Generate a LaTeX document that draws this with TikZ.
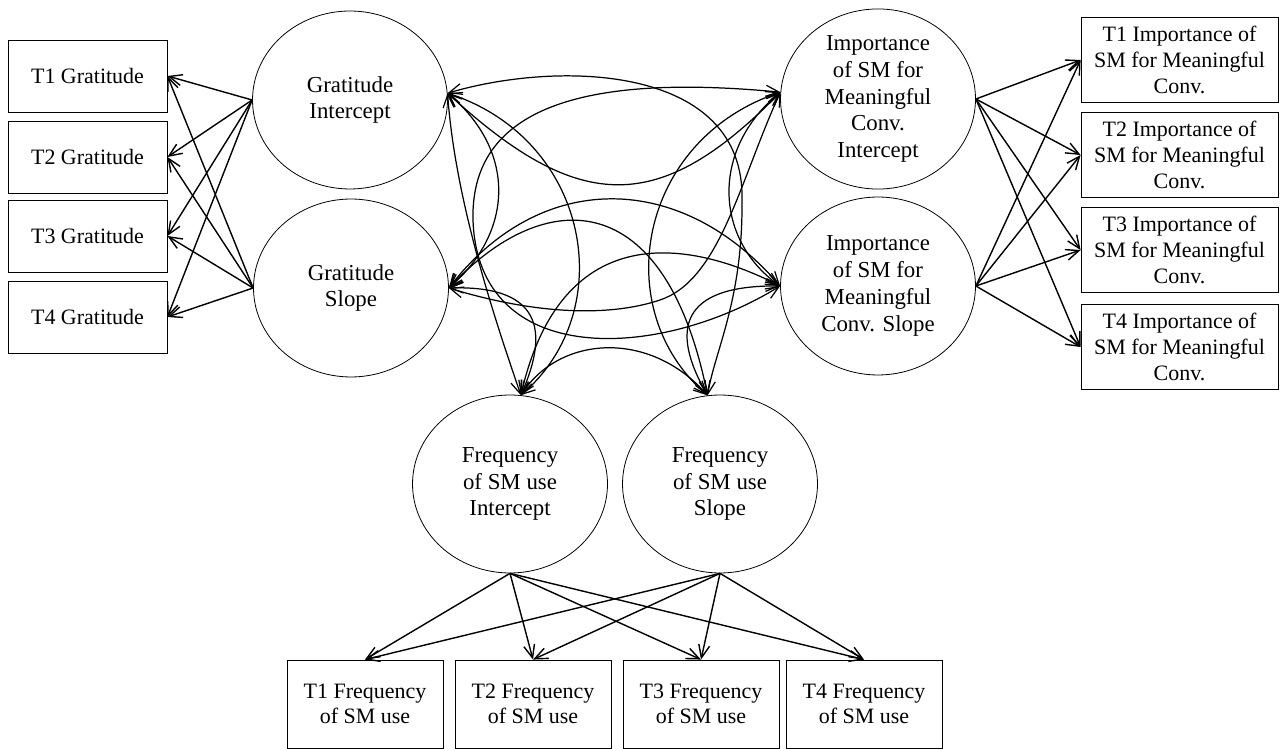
\documentclass[tikz,border=0pt]{standalone}
\usepackage{fontspec}
\setmainfont{Liberation Serif}
\usetikzlibrary{shapes.geometric, arrows.meta}

\begin{document}
\begin{tikzpicture}[x=0.02cm,y=-0.02cm,
    lat/.style={draw,ellipse,line width=0.45pt,minimum width=3.9cm,minimum height=3.56cm,inner sep=0pt,align=center,font=\fontsize{13}{15.3}\selectfont},
    obs/.style={draw,rectangle,line width=0.5pt,inner sep=0pt,align=center,font=\fontsize{12.5}{14.6}\selectfont},
    load/.style={-{Straight Barb[length=2.6mm,width=2.2mm]},line width=0.8pt},
    cov/.style={{Straight Barb[length=2.6mm,width=2.2mm]}-{Straight Barb[length=2.6mm,width=2.2mm]},line width=0.7pt}]
    \useasboundingbox (0,0) rectangle (1281,749);

    % latent factors
    \node[lat] (gint) at (350,100) {Gratitude\\Intercept};
    \node[lat] (gslp) at (351,288) {Gratitude\\Slope};
    \node[lat] (mint) at (878,99) {Importance\\of SM for\\Meaningful\\Conv.\\Intercept};
    \node[lat] (mslp) at (878,286) {Importance\\of SM for\\Meaningful\\Conv. Slope};
    \node[lat] (fint) at (510,484) {Frequency\\of SM use\\Intercept};
    \node[lat] (fslp) at (720,484) {Frequency\\of SM use\\Slope};

    % indicators
    \foreach \i/\y in {1/76,2/157,3/236,4/317}
        \node[obs,minimum width=3.18cm,minimum height=1.44cm] (g\i) at (87.5,\y) {T\i{} Gratitude};
    \foreach \i/\y in {1/60,2/155,3/250,4/347}
        \node[obs,minimum width=3.94cm,minimum height=1.7cm] (m\i) at (1179.5,\y) {T\i{} Importance of\\SM for Meaningful\\Conv.};
    \foreach \i/\x in {1/365,2/533,3/701,4/864}
        \node[obs,minimum width=3.12cm,minimum height=1.76cm] (f\i) at (\x,704) {T\i{} Frequency\\of SM use};

    % loadings
    \foreach \i in {1,...,4}{
        \draw[load] (gint.west) -- (g\i.east);
        \draw[load] (gslp.west) -- (g\i.east);
        \draw[load] (mint.east) -- (m\i.west);
        \draw[load] (mslp.east) -- (m\i.west);
        \draw[load] (fint.south) -- (f\i.north);
        \draw[load] (fslp.south) -- (f\i.north);
    }

    % covariances
    \draw[cov] (gint.4) .. controls (580,215) and (660,215) .. (mint.176);
    \draw[cov] (gslp.0) .. controls (540,170) and (680,170) .. (mslp.180);
    \draw[cov] (fint.83) .. controls (560,335) and (650,330) .. (fslp.98);
    \draw[cov] (gint.4) .. controls (560,60) and (745,65) .. (742,200) .. controls (743,300) and (715,350) .. (fslp.98);
    \draw[cov] (mint.176) .. controls (600,75) and (470,100) .. (473,220) .. controls (478,370) and (660,360) .. (mslp.180);
    \draw[cov] (gint.4) .. controls (455,200) and (495,320) .. (fint.83);
    \draw[cov] (gint.4) .. controls (590,140) and (620,310) .. (fint.83);
    \draw[cov] (gint.4) .. controls (515,150) and (515,230) .. (gslp.0);
    \draw[cov] (mint.176) .. controls (638,140) and (608,310) .. (fslp.98);
    \draw[cov] (mint.176) .. controls (710,150) and (715,240) .. (mslp.180);
    \draw[cov] (gslp.0) .. controls (520,310) and (600,320) .. (660,300) .. controls (720,280) and (740,180) .. (mint.176);
    \draw[cov] (gslp.0) .. controls (545,185) and (665,185) .. (fslp.98);
    \draw[cov] (mslp.180) .. controls (680,235) and (560,225) .. (fint.83);
    \draw[cov] (gslp.0) .. controls (550,285) and (545,340) .. (fint.83);
    \draw[cov] (fslp.98) .. controls (670,330) and (680,285) .. (mslp.180);
\end{tikzpicture}
\end{document}
